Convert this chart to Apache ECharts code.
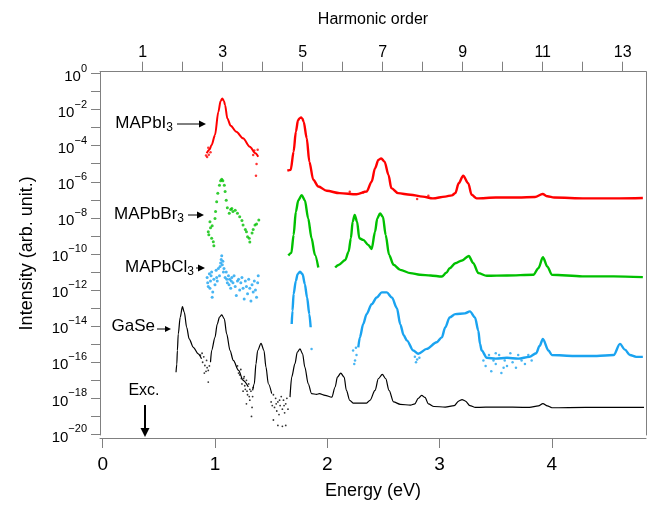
<!DOCTYPE html>
<html><head><meta charset="utf-8">
<script src="https://cdn.jsdelivr.net/npm/echarts@6/dist/echarts.min.js"></script>
<style>html,body{margin:0;padding:0;background:#fff}#c{width:651px;height:508px}</style>
</head><body><div id="c"></div>
<script>
// ---- tick definitions ----
const energyTicks = [0, 1, 2, 3, 4];
const harmonicTicks = [1,2,3,4,5,6,7,8,9,10,11,12,13];
const harmonicLabels = [1,3,5,7,9,11,13];
const logTicks = [-20,-19,-18,-17,-16,-15,-14,-13,-12,-11,-10,-9,-8,-7,-6,-5,-4,-3,-2,-1,0];
const logLabels = [-20,-18,-16,-14,-12,-10,-8,-6,-4,-2,0];
const photonEnergy = 0.3562; // eV of the fundamental (harmonic order 1)
const energyRange = [-0.024, 4.838];
const logRange = [-20.03, 0.1];

// ---- data: [energy (eV), log10 intensity] ----
const mapbi3Third = [[0.926,-4.42],[0.95,-4.22],[0.97,-3.96],[1.00,-3.41],[1.03,-2.12],[1.05,-1.52],[1.065,-1.39],[1.08,-1.52],[1.09,-1.76],[1.11,-2.49],[1.14,-2.9],[1.19,-3.23],[1.25,-3.59],[1.31,-4.06],[1.36,-4.42],[1.385,-4.61]];
const mapbi3Noise = [[0.92,-4.55],[0.93,-4.62],[0.94,-4.12],[0.945,-4.5],[0.96,-4.37],[1.34,-4.52],[1.35,-4.27],[1.37,-5.01],[1.365,-5.66],[1.38,-4.22],[2.2,-6.55],[2.32,-6.6],[2.8,-6.95],[2.9,-6.78]];
const mapbi3Main = [[1.644,-5.38],[1.674,-5.34],[1.70,-4.33],[1.72,-3.23],[1.74,-2.58],[1.755,-2.47],[1.766,-2.44],[1.778,-2.5],[1.79,-2.68],[1.817,-3.59],[1.84,-4.88],[1.875,-5.89],[1.92,-6.26],[1.995,-6.5],[2.11,-6.63],[2.26,-6.69],[2.35,-6.54],[2.395,-5.99],[2.425,-5.25],[2.455,-4.79],[2.48,-4.7],[2.51,-4.88],[2.545,-5.62],[2.57,-6.35],[2.63,-6.63],[2.74,-6.72],[2.85,-6.82],[2.94,-6.92],[3.05,-6.82],[3.11,-6.75],[3.14,-6.63],[3.17,-6.08],[3.21,-5.66],[3.255,-6.08],[3.285,-6.72],[3.33,-6.92],[3.5,-6.87],[3.7,-6.87],[3.85,-6.84],[3.918,-6.68],[3.96,-6.8],[4.02,-6.87],[4.3,-6.92],[4.6,-6.92],[4.81,-6.9]];

const mapbbr3Third = [[0.94,-8.77],[0.945,-8.94],[0.955,-8.21],[0.96,-8.54],[0.97,-9.13],[0.975,-8.44],[0.985,-9.32],[0.99,-9.54],[1.0,-8.03],[1.005,-7.64],[1.015,-7.11],[1.025,-6.64],[1.04,-6.19],[1.05,-5.94],[1.06,-5.86],[1.07,-5.94],[1.083,-6.19],[1.09,-6.54],[1.10,-7.02],[1.11,-7.44],[1.127,-7.75],[1.14,-7.54],[1.15,-7.48],[1.16,-7.64],[1.18,-7.57],[1.2,-7.74],[1.22,-7.94],[1.24,-8.14],[1.25,-8.4],[1.27,-8.64],[1.28,-8.77],[1.29,-9.04],[1.305,-9.13],[1.31,-9.34],[1.33,-8.84],[1.34,-8.64],[1.356,-8.4],[1.37,-8.34],[1.39,-8.12]];
const mapbbr3Fifth = [[1.653,-10.09],[1.68,-9.94],[1.70,-8.95],[1.72,-7.66],[1.742,-7.02],[1.772,-6.74],[1.80,-7.02],[1.83,-8.03],[1.86,-9.13],[1.89,-10.05],[1.92,-10.75]];
const mapbbr3High = [[2.07,-10.75],[2.10,-10.61],[2.16,-10.33],[2.19,-9.87],[2.21,-9.13],[2.226,-8.21],[2.244,-7.84],[2.265,-8.21],[2.285,-9.13],[2.32,-9.22],[2.365,-9.5],[2.395,-9.72],[2.425,-8.77],[2.445,-8.03],[2.47,-7.75],[2.495,-7.94],[2.52,-8.95],[2.55,-10.05],[2.59,-10.6],[2.65,-10.88],[2.74,-11.06],[2.825,-11.15],[2.92,-11.19],[3.02,-11.25],[3.06,-11.04],[3.09,-10.79],[3.14,-10.51],[3.20,-10.36],[3.26,-10.11],[3.30,-10.51],[3.345,-11.06],[3.42,-11.21],[3.6,-11.19],[3.835,-11.15],[3.88,-10.79],[3.92,-10.18],[3.96,-10.7],[4.0,-11.15],[4.27,-11.24],[4.55,-11.24],[4.81,-11.28]];

const mapbcl3Third = [[0.93,-11.3],[0.935,-11.6],[0.94,-11.8],[0.95,-11.1],[0.955,-11.9],[0.96,-11.5],[0.965,-11.2],[0.97,-11.0],[0.975,-12.4],[0.98,-12.1],[0.99,-11.4],[1.00,-11.7],[1.01,-10.9],[1.015,-11.3],[1.02,-11.5],[1.03,-10.8],[1.04,-11.2],[1.045,-10.7],[1.05,-10.5],[1.055,-10.3],[1.06,-10.1],[1.065,-10.6],[1.07,-10.4],[1.075,-11.0],[1.08,-10.8],[1.09,-11.3],[1.10,-11.0],[1.105,-11.4],[1.11,-11.6],[1.12,-11.2],[1.125,-11.7],[1.13,-11.4],[1.14,-11.9],[1.145,-11.5],[1.15,-11.3],[1.16,-11.6],[1.17,-11.2],[1.18,-11.8],[1.19,-12.3],[1.20,-11.5],[1.21,-11.4],[1.22,-12.0],[1.23,-11.6],[1.24,-11.3],[1.25,-11.9],[1.26,-12.5],[1.27,-11.5],[1.28,-11.8],[1.29,-12.2],[1.30,-11.4],[1.31,-11.9],[1.32,-12.6],[1.33,-11.7],[1.34,-12.1],[1.35,-11.5],[1.36,-12.0],[1.37,-12.4],[1.38,-11.6],[1.385,-11.2]];
const mapbcl3Fifth = [[1.683,-13.88],[1.69,-13.14],[1.70,-12.22],[1.72,-11.49],[1.736,-11.12],[1.757,-10.98],[1.78,-11.12],[1.80,-11.67],[1.82,-12.41],[1.84,-13.33],[1.852,-14.06]];
const mapbcl3High = [[2.276,-15.17],[2.29,-14.62],[2.32,-13.88],[2.35,-13.33],[2.395,-12.78],[2.44,-12.41],[2.485,-12.13],[2.53,-12.13],[2.575,-12.41],[2.62,-13.0],[2.65,-13.9],[2.68,-14.5],[2.71,-14.8],[2.765,-15.35],[2.81,-15.53],[2.885,-15.26],[2.974,-14.89],[3.02,-14.62],[3.05,-14.07],[3.09,-13.51],[3.14,-13.33],[3.226,-13.29],[3.27,-13.18],[3.315,-13.51],[3.345,-14.25],[3.36,-14.98],[3.375,-15.35],[3.42,-15.75],[3.5,-15.8],[3.6,-15.75],[3.7,-15.8],[3.8,-15.7],[3.86,-15.5],[3.89,-15.1],[3.92,-14.71],[3.97,-15.35],[4.0,-15.6],[4.2,-15.65],[4.4,-15.65],[4.55,-15.6],[4.606,-14.98],[4.65,-15.3],[4.695,-15.6],[4.75,-15.7],[4.81,-15.7]];
const mapbcl3Noise = [[1.86,-15.26],[2.23,-15.35],[2.24,-16.1],[2.247,-15.9],[2.255,-15.2],[2.26,-15.6],[2.78,-15.7],[2.79,-16.0],[2.8,-15.85],[2.82,-15.75],[3.39,-15.9],[3.41,-16.2],[3.44,-15.6],[3.46,-16.5],[3.48,-15.9],[3.5,-16.1],[3.5,-15.5],[3.53,-15.6],[3.55,-16.6],[3.57,-16.3],[3.58,-15.9],[3.6,-16.2],[3.63,-15.5],[3.65,-16.0],[3.68,-16.3],[3.7,-15.6],[3.73,-15.9],[3.76,-16.1],[3.79,-15.6],[3.82,-15.9]];

const gaseA = [[0.653,-16.55],[0.66,-16.1],[0.665,-15.35],[0.673,-14.43],[0.69,-13.51],[0.71,-12.92],[0.727,-13.24],[0.748,-14.07],[0.77,-14.7],[0.807,-15.17],[0.85,-15.53],[0.88,-15.8]];
const gaseB = [[0.96,-16.0],[0.97,-15.35],[1.0,-14.62],[1.02,-13.88],[1.04,-13.5],[1.06,-13.37],[1.083,-13.6],[1.104,-14.43],[1.134,-15.35],[1.163,-15.9],[1.21,-16.45],[1.25,-17.0],[1.297,-17.37]];
const gaseC = [[1.335,-17.56],[1.35,-17.2],[1.365,-16.08],[1.38,-15.35],[1.41,-14.95],[1.436,-15.35],[1.454,-16.27],[1.475,-17.19],[1.505,-17.74]];
const gaseD = [[1.668,-17.93],[1.683,-16.82],[1.712,-16.08],[1.733,-15.44],[1.757,-15.26],[1.78,-15.53],[1.80,-16.27],[1.83,-17.19],[1.86,-17.74],[1.905,-17.78],[1.93,-17.74],[1.98,-17.83],[2.04,-17.93],[2.07,-17.37],[2.09,-16.82],[2.12,-16.6],[2.15,-16.82],[2.17,-17.56],[2.20,-18.11],[2.23,-18.26],[2.35,-18.26],[2.38,-18.11],[2.425,-17.56],[2.455,-16.91],[2.49,-16.67],[2.52,-16.91],[2.55,-17.56],[2.59,-18.2],[2.65,-18.33],[2.74,-18.38],[2.78,-18.3],[2.81,-18.0],[2.84,-17.83],[2.87,-17.95],[2.90,-18.3],[2.95,-18.45],[3.05,-18.48],[3.13,-18.4],[3.17,-18.15],[3.20,-18.07],[3.23,-18.15],[3.27,-18.4],[3.32,-18.5],[3.5,-18.48],[3.8,-18.5],[3.88,-18.42],[3.92,-18.29],[3.96,-18.42],[4.0,-18.52],[4.3,-18.5],[4.82,-18.5]];
const gaseNoise = [[0.87,-15.6],[0.885,-15.5],[0.89,-16.0],[0.9,-15.7],[0.905,-16.6],[0.91,-16.18],[0.92,-16.5],[0.925,-15.9],[0.93,-16.3],[0.94,-16.45],[0.94,-17.1],[0.95,-16.2],[1.2,-16.2],[1.21,-16.6],[1.22,-16.7],[1.23,-16.4],[1.235,-16.9],[1.24,-17.2],[1.25,-17.6],[1.255,-16.9],[1.26,-16.8],[1.265,-17.3],[1.27,-17.5],[1.28,-17.0],[1.28,-18.3],[1.285,-17.6],[1.29,-17.8],[1.3,-17.2],[1.305,-17.9],[1.31,-18.1],[1.31,-17.5],[1.32,-17.6],[1.325,-19.0],[1.33,-18.5],[1.335,-17.9],[1.34,-17.4],[1.5,-18.2],[1.51,-18.4],[1.52,-17.8],[1.52,-19.2],[1.53,-18.5],[1.54,-18.0],[1.545,-18.3],[1.55,-18.7],[1.56,-18.2],[1.56,-19.5],[1.57,-18.9],[1.575,-18.1],[1.58,-18.4],[1.59,-17.9],[1.6,-18.6],[1.6,-19.55],[1.61,-18.1],[1.615,-18.4],[1.62,-18.8],[1.63,-18.3],[1.63,-19.5],[1.64,-18.0],[1.65,-18.6]];

// ---- styling ----
const FONT = 'Liberation Sans, Arial, sans-serif';
const RED = '#ff0000', GREEN = '#00c000', BLUE = '#1aa3f0', BLACK = '#000000';
const AXIS = '#808080';

function lineSeries(data, color, width) {
  return { type: 'line', data: data, showSymbol: false, symbol: 'none',
    smooth: 0.3, smoothMonotone: 'x',
    lineStyle: { color: color, width: width }, itemStyle: { color: color },
    xAxisIndex: 0, yAxisIndex: 0, silent: true, z: 3 };
}
function dotSeries(data, color, size) {
  return { type: 'scatter', data: data, symbol: 'circle', symbolSize: size,
    itemStyle: { color: color }, xAxisIndex: 0, yAxisIndex: 0, silent: true, z: 3 };
}

const series = [
  lineSeries(mapbi3Third, RED, 2), dotSeries(mapbi3Noise, RED, 2.5), lineSeries(mapbi3Main, RED, 2.4),
  dotSeries(mapbbr3Third, GREEN, 3), lineSeries(mapbbr3Fifth, GREEN, 2.4), lineSeries(mapbbr3High, GREEN, 2.4),
  dotSeries(mapbcl3Third, BLUE, 3), lineSeries(mapbcl3Fifth, BLUE, 2.4), lineSeries(mapbcl3High, BLUE, 2.4), dotSeries(mapbcl3Noise, BLUE, 2.5),
  lineSeries(gaseA, BLACK, 1.2), lineSeries(gaseB, BLACK, 1.2), lineSeries(gaseC, BLACK, 1.2), lineSeries(gaseD, BLACK, 1.2), dotSeries(gaseNoise, BLACK, 1.8)
];

// annotations (labels and arrows)
function arrowH(x1, x2, y, head, hw) {
  return [
    { type: 'line', shape: { x1: x1, y1: y, x2: x2 - head + 1, y2: y }, style: { stroke: '#000', lineWidth: 1 }, z: 10 },
    { type: 'polygon', shape: { points: [[x2, y], [x2 - head, y - hw], [x2 - head, y + hw]] }, style: { fill: '#000' }, z: 10 }
  ];
}
function label(text, right, y) {
  return { type: 'text', x: right, y: y, z: 10, style: {
    text: text, align: 'right', verticalAlign: 'middle', fill: '#000',
    fontFamily: FONT, fontSize: 17, lineHeight: 22,
    rich: { s: { fontFamily: FONT, fontSize: 12, lineHeight: 12, verticalAlign: 'bottom', fill: '#000' } } } };
}
const graphics = [].concat(
  [label('MAPbI{s|3}', 173, 123)], arrowH(177, 206, 124, 7, 3.5),
  [label('MAPbBr{s|3}', 184, 214)], arrowH(188, 204, 215, 7, 3.5),
  [label('MAPbCl{s|3}', 194, 267)], arrowH(196, 205, 268, 7, 3.5),
  [label('GaSe', 155, 326)], arrowH(157, 171, 329, 6, 3),
  [{ type: 'text', x: 144, y: 391, z: 10, style: { text: 'Exc.', align: 'center', verticalAlign: 'middle', fontFamily: FONT, fontSize: 16, fill: '#000' } },
   { type: 'line', shape: { x1: 145, y1: 405, x2: 145, y2: 430 }, style: { stroke: '#000', lineWidth: 2 }, z: 10 },
   { type: 'polygon', shape: { points: [[145, 437], [140.5, 428], [149.5, 428]] }, style: { fill: '#000' }, z: 10 }]
);

const chart = echarts.init(document.getElementById('c'), null, { renderer: 'canvas' });
chart.setOption({
  animation: false,
  backgroundColor: '#fff',
  textStyle: { fontFamily: FONT },
  grid: { left: 100, right: 5, top: 71.7, bottom: 73, containLabel: false },
  xAxis: [
    { type: 'value', position: 'bottom', min: energyRange[0], max: energyRange[1], offset: 3,
      axisLine: { show: true, onZero: false, lineStyle: { color: AXIS, width: 1 } },
      axisTick: { show: true, customValues: energyTicks, length: 10, inside: false, lineStyle: { color: AXIS } },
      axisLabel: { customValues: energyTicks, fontSize: 19, margin: 17, color: '#000', fontFamily: FONT },
      splitLine: { show: false },
      name: 'Energy (eV)', nameLocation: 'middle', nameGap: 44,
      nameTextStyle: { fontSize: 18, color: '#000', fontFamily: FONT } },
    { type: 'value', position: 'top', min: energyRange[0] / photonEnergy, max: energyRange[1] / photonEnergy,
      axisLine: { show: true, onZero: false, lineStyle: { color: AXIS, width: 1 } },
      axisTick: { show: true, customValues: harmonicTicks, length: 10, lineStyle: { color: AXIS } },
      axisLabel: { customValues: harmonicLabels, fontSize: 16, margin: 11, color: '#000', fontFamily: FONT },
      splitLine: { show: false },
      name: 'Harmonic order', nameLocation: 'middle', nameGap: 44,
      nameTextStyle: { fontSize: 16, color: '#000', fontFamily: FONT } }
  ],
  yAxis: [
    { type: 'value', position: 'left', min: logRange[0], max: logRange[1],
      axisLine: { show: true, onZero: false, lineStyle: { color: AXIS, width: 1 } },
      axisTick: { show: true, customValues: logTicks, length: 9, lineStyle: { color: AXIS } },
      axisLabel: { customValues: logLabels, margin: 13, color: '#000',
        formatter: function (v) { const n = Math.round(v); return '{b|10}{s|' + (n === 0 ? '0' : '\u2212' + (-n)) + '}'; },
        rich: { b: { fontSize: 15, lineHeight: 21, verticalAlign: 'bottom', fontFamily: FONT, color: '#000' },
                s: { fontSize: 11, lineHeight: 11, verticalAlign: 'top', fontFamily: FONT, color: '#000' } } },
      splitLine: { show: false },
      name: 'Intensity (arb. unit.)', nameLocation: 'middle', nameGap: 64,
      nameTextStyle: { fontSize: 18, color: '#000', fontFamily: FONT } },
    { type: 'value', position: 'right', min: logRange[0], max: logRange[1],
      axisLine: { show: true, onZero: false, lineStyle: { color: AXIS, width: 1 } },
      axisTick: { show: false }, axisLabel: { show: false }, splitLine: { show: false } }
  ],
  series: series,
  graphic: graphics
});
</script>
</body></html>
